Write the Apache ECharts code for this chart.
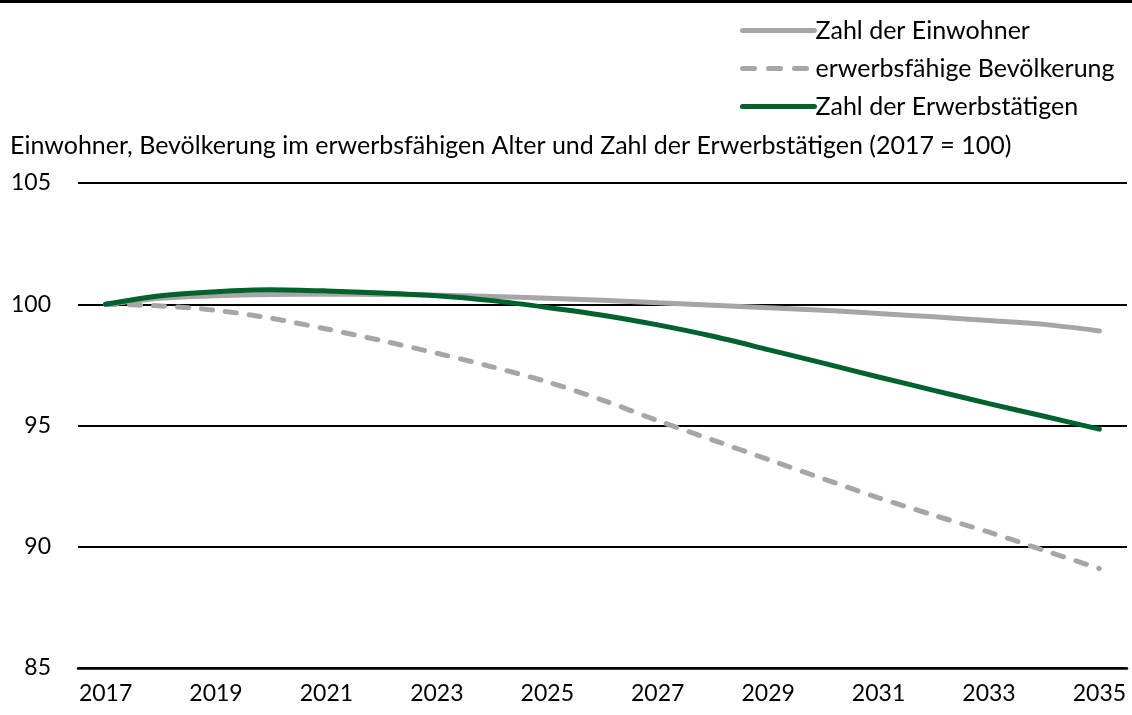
<!DOCTYPE html>
<html><head><meta charset="utf-8">
<script src="https://cdn.jsdelivr.net/npm/echarts@6/dist/echarts.min.js"></script>
<style>html,body{margin:0;padding:0;background:#fff}#c{width:1132px;height:715px}</style>
</head><body><div id="c"></div>
<script>
const years = ['2017','2018','2019','2020','2021','2022','2023','2024','2025','2026','2027','2028','2029','2030','2031','2032','2033','2034','2035'];
const einwohner = [100,100.25,100.35,100.4,100.42,100.4,100.37,100.32,100.25,100.16,100.06,99.96,99.86,99.75,99.62,99.48,99.33,99.17,98.9];
const erwerbsfaehig = [100,99.93,99.75,99.42,98.98,98.5,97.98,97.42,96.8,96.05,95.2,94.4,93.6,92.8,92.02,91.3,90.6,89.85,89.1];
const erwerbstaetige = [100,100.35,100.52,100.6,100.55,100.46,100.35,100.15,99.87,99.55,99.15,98.68,98.13,97.57,97.0,96.45,95.9,95.38,94.85];
const yTicks = {min:85, max:105, interval:5};
const title = 'Einwohner, Bevölkerung im erwerbsfähigen Alter und Zahl der Erwerbstätigen (2017 = 100)';
const FONT = 'Lato';
const chart = echarts.init(document.getElementById('c'), null, {renderer:'canvas'});
chart.setOption({
  animation:false,
  textStyle:{fontFamily:FONT},
  graphic:[
    {type:'rect', shape:{x:0,y:0,width:1132,height:3}, style:{fill:'#000'}},
    {type:'text', left:10, top:133, style:{text:title, font:'25px '+FONT, fill:'#000'}}
  ],
  legend:{
    orient:'vertical', left:735, top:13, itemWidth:72, itemHeight:14, itemGap:13,
    itemStyle:{opacity:0},
    lineStyle:{width:5, cap:'round'},
    textStyle:{fontSize:25, lineHeight:25, color:'#000', fontFamily:FONT, padding:[0,0,0,-4]},
    data:[
      {name:'Zahl der Einwohner'},
      {name:'erwerbsfähige Bevölkerung', lineStyle:{type:[12,14], width:5, cap:'round'}},
      {name:'Zahl der Erwerbstätigen'}
    ]
  },
  grid:{left:78, right:5, top:183, bottom:47},
  xAxis:{
    type:'category', data:years, boundaryGap:true,
    axisLine:{lineStyle:{color:'#000', width:2.5}},
    axisTick:{interval:0, length:8, lineStyle:{color:'#000', width:2}},
    axisLabel:{interval:1, color:'#000', fontSize:23, margin:14, fontFamily:FONT}
  },
  yAxis:{
    type:'value', min:yTicks.min, max:yTicks.max, interval:yTicks.interval,
    axisLine:{show:false}, axisTick:{show:false},
    splitLine:{lineStyle:{color:'#000', width:1.8}},
    axisLabel:{color:'#000', fontSize:23, margin:27, fontFamily:FONT}
  },
  series:[
    {name:'Zahl der Einwohner', type:'line', data:einwohner, smooth:0.3, symbol:'none',
     lineStyle:{color:'#A6A6A6', width:5, cap:'round'}, itemStyle:{color:'#A6A6A6'}},
    {name:'erwerbsfähige Bevölkerung', type:'line', data:erwerbsfaehig, smooth:0.3, symbol:'none',
     lineStyle:{color:'#A6A6A6', width:5, type:[11,13], cap:'round'}, itemStyle:{color:'#A6A6A6'}},
    {name:'Zahl der Erwerbstätigen', type:'line', data:erwerbstaetige, smooth:0.3, symbol:'none', z:3,
     lineStyle:{color:'#00632E', width:5, cap:'round'}, itemStyle:{color:'#00632E'}}
  ]
});
</script></body></html>
